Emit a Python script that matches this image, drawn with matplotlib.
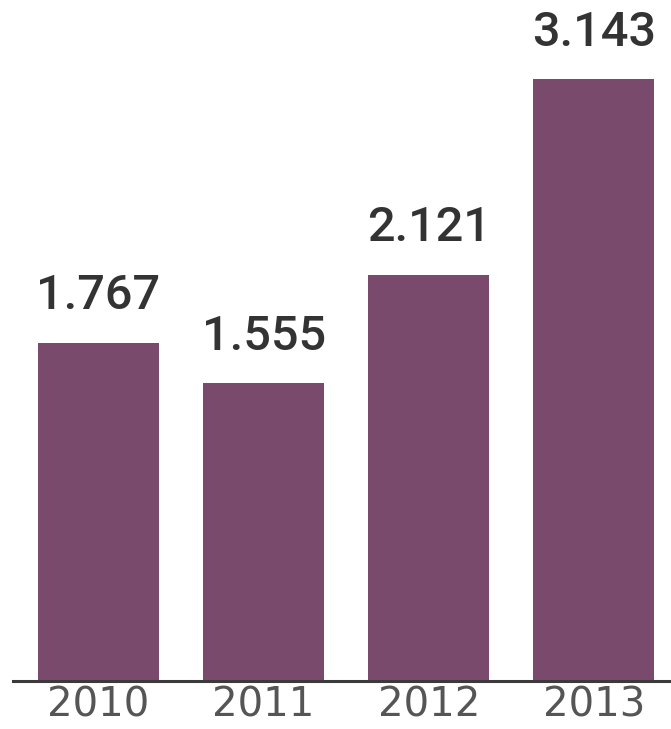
import matplotlib
matplotlib.use('Agg')
import matplotlib.pyplot as plt

years = ['2010', '2011', '2012', '2013']
values = [1.767, 1.555, 2.121, 3.143]
value_labels = ['1.767', '1.555', '2.121', '3.143']

BAR_COLOR = '#7a4a6d'


def main():
    fig = plt.figure(figsize=(6.71, 7.29), dpi=100)
    # axes spans from x=13px to right edge, baseline at y=681px
    ax = fig.add_axes([13 / 671, 48 / 729, 658 / 671, 681 / 729])

    x = list(range(len(years)))
    bars = ax.bar(x, values, width=0.733, color=BAR_COLOR)

    for b, lab in zip(bars, value_labels):
        ax.annotate(lab, (b.get_x() + b.get_width() / 2, b.get_height()),
                    xytext=(0, 24), textcoords='offset points',
                    ha='center', va='baseline', fontsize=35, color='#333333',
                    family=['Roboto', 'DejaVu Sans'], fontweight='medium')

    ax.set_xlim(-0.518, 3.467)
    ax.set_ylim(0, 3.556)
    ax.set_xticks(x)
    ax.set_xticklabels(years, fontsize=29, color='#555555')
    ax.tick_params(axis='x', length=0, pad=3)
    ax.set_yticks([])
    for s in ['top', 'left', 'right']:
        ax.spines[s].set_visible(False)
    ax.spines['bottom'].set_linewidth(2.2)
    ax.spines['bottom'].set_color('#3a3a3a')

    fig.savefig('out.png', dpi=100)


if __name__ == '__main__':
    main()
